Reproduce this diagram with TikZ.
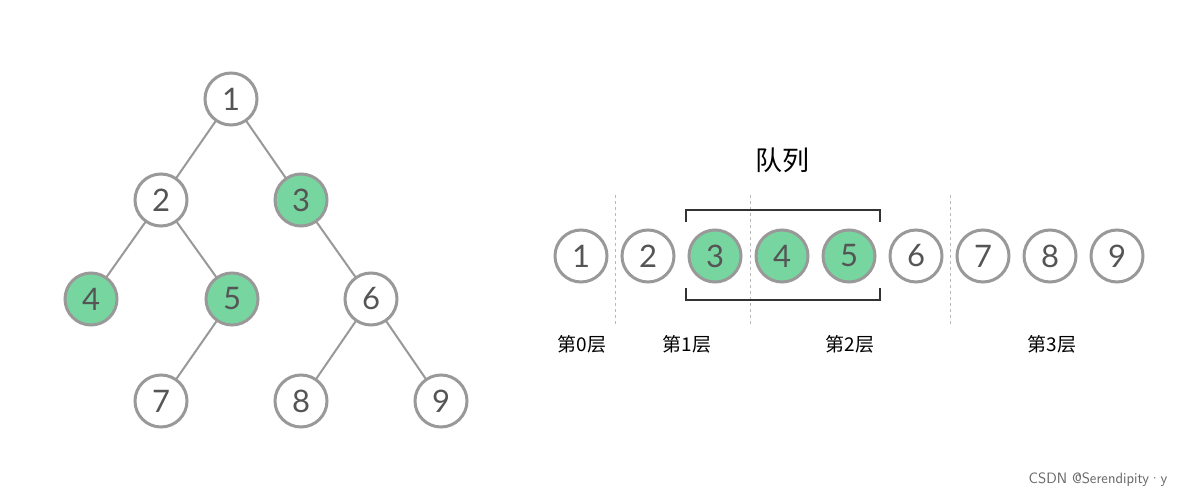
\documentclass[tikz,border=0pt]{standalone}
\usepackage{fontspec}
\setmainfont{Lato}
\newfontfamily\cjk{Noto Sans CJK SC}
\definecolor{ring}{HTML}{999999}
\definecolor{grn}{HTML}{77D6A0}
\definecolor{txt}{HTML}{555555}
\begin{document}
\begin{tikzpicture}[x=1pt,y=-1pt,
  nd/.style={circle,draw=ring,line width=3pt,minimum size=52pt,inner sep=0pt,fill=white,text=txt,font=\fontsize{31}{31}\selectfont},
  gn/.style={nd,fill=grn},
  ed/.style={draw=ring,line width=2pt},
  lab/.style={font=\cjk\fontsize{19}{19}\selectfont,text=black},
  sep/.style={draw=ring!70,line width=1pt,dashed}]
\useasboundingbox (0,0) rectangle (1200,500);
\fill[white] (0,0) rectangle (1200,500);
% tree edges first
\coordinate (c1) at (231,99); \coordinate (c2) at (161,200); \coordinate (c3) at (301,200);
\coordinate (c4) at (91,299); \coordinate (c5) at (232,299); \coordinate (c6) at (371,299);
\coordinate (c7) at (161,401); \coordinate (c8) at (301,401); \coordinate (c9) at (441,401);
\foreach \a/\b in {1/2,1/3,2/4,2/5,3/6,5/7,6/8,6/9} \draw[ed] (c\a) -- (c\b);
\node[nd] (t1) at (c1) {1};
\node[nd] (t2) at (c2) {2};
\node[gn] (t3) at (c3) {3};
\node[gn] (t4) at (c4) {4};
\node[gn] (t5) at (c5) {5};
\node[nd] (t6) at (c6) {6};
\node[nd] (t7) at (c7) {7};
\node[nd] (t8) at (c8) {8};
\node[nd] (t9) at (c9) {9};
% queue
\node[font=\cjk\fontsize{27}{27}\selectfont] (title) at (782,160) {队列};
\foreach \i/\x in {1/581,2/648,6/916,7/983,8/1050,9/1117} \node[nd] (q\i) at (\x,256) {\i};
\foreach \i/\x in {3/715,4/782,5/849} \node[gn] (q\i) at (\x,256) {\i};
\foreach \x in {615,750,950} \draw[sep] (\x,195) -- (\x,325);
\draw[line width=1.3pt,draw=black!80] (686,222) -- (686,210) -- (880,210) -- (880,222);
\draw[line width=1.3pt,draw=black!80] (686,288) -- (686,300) -- (880,300) -- (880,288);
\node[lab] (l0) at (582,344) {第0层};
\node[lab] (l1) at (687,344) {第1层};
\node[lab] (l2) at (850,344) {第2层};
\node[lab] (l3) at (1052,344) {第3层};
\node[font=\fontsize{15}{15}\selectfont\sffamily,text=black!60] (wm) at (1098,480) {CSDN @Serendipity·y};
\end{tikzpicture}
\end{document}
